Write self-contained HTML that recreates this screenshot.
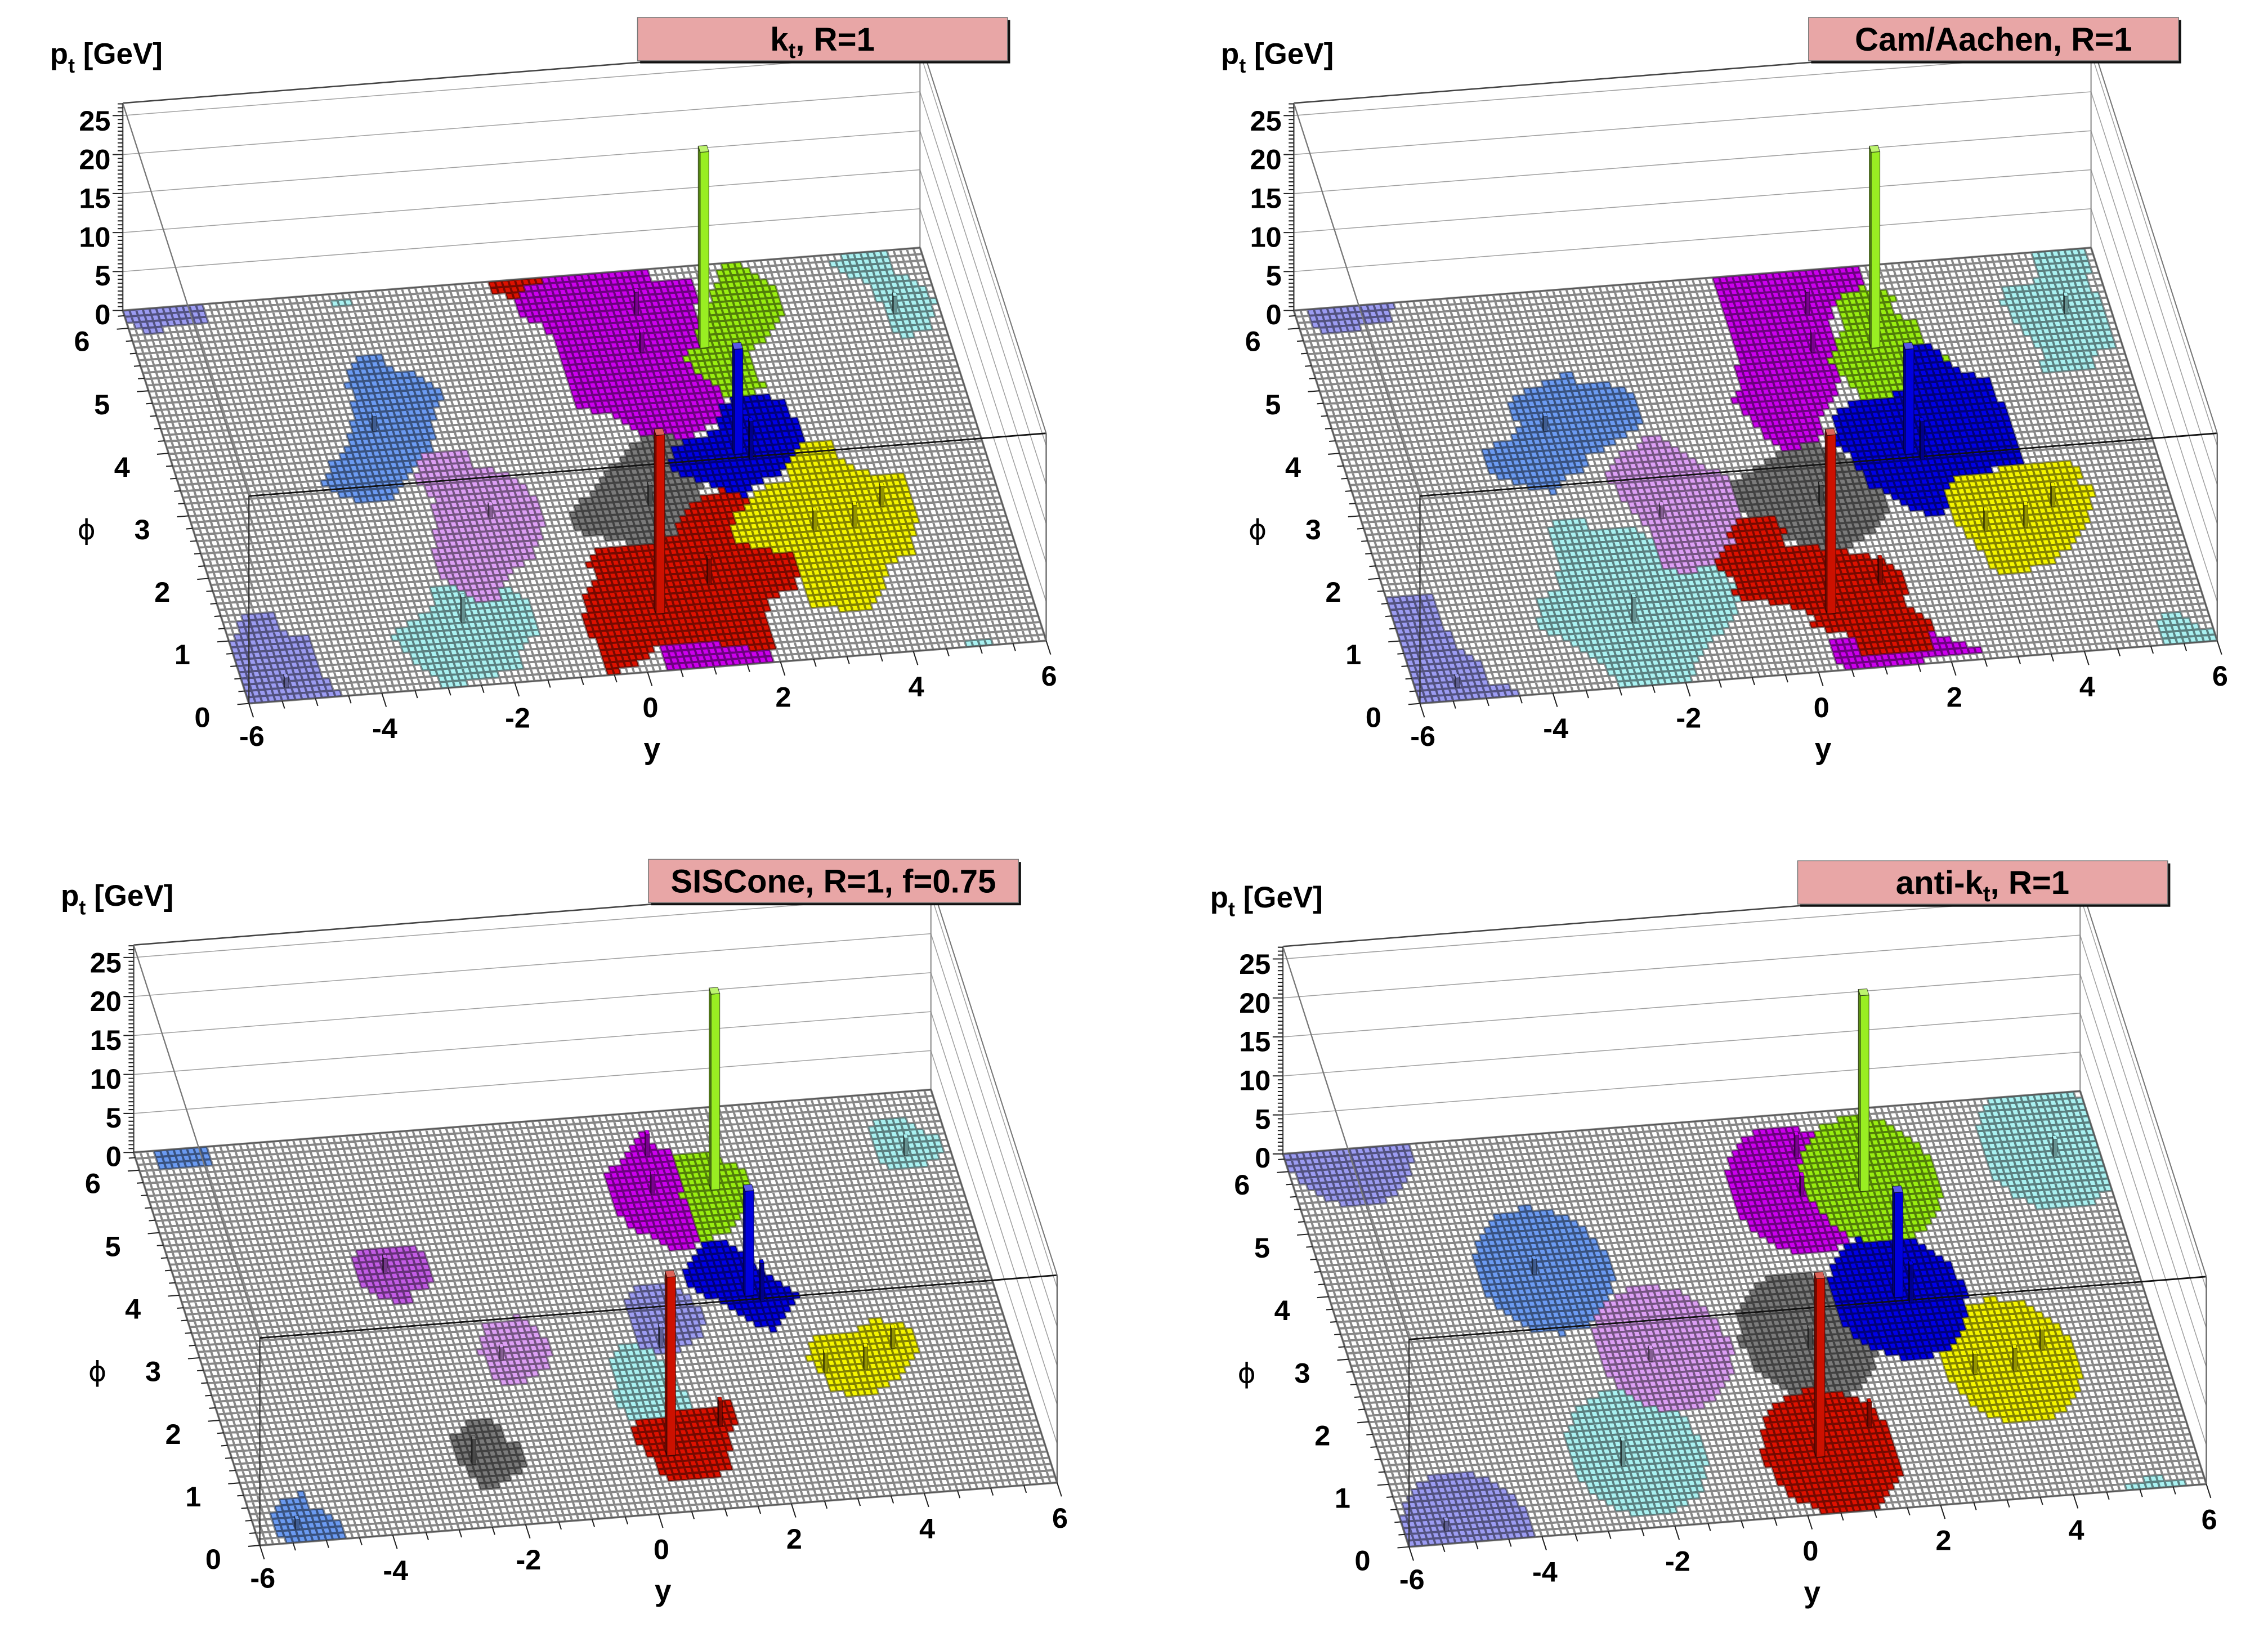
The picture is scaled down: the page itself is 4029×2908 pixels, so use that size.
<!DOCTYPE html>
<html><head><meta charset="utf-8"><title>Jet areas</title>
<style>
html,body{margin:0;padding:0;background:#fff;width:4029px;height:2908px;overflow:hidden}
svg{display:block}
text{font-family:"Liberation Sans",Arial,sans-serif;font-weight:bold;fill:#000}
.tk{font-size:19.5px}
.ti{font-size:22.5px}
.ax{font-size:20.5px}
.phi{font-weight:normal;font-family:"DejaVu Sans","Liberation Sans",sans-serif;font-size:19px}
</style></head><body>
<svg id="svg" xmlns="http://www.w3.org/2000/svg" width="4029" height="2908" viewBox="0 0 1560 1126">
<rect x="0" y="0" width="1560" height="1126" fill="#fff"/>

<g class="panel" transform="translate(0,0)">
<g class="geo"></g>
<text class="ax" x="34.3" y="44">p<tspan font-size="14" dy="6">t</tspan><tspan dy="-6"> [GeV]</tspan></text>
<g class="tk" text-anchor="end"><text x="76" y="223">0</text><text x="76" y="196.4">5</text><text x="76" y="169.7">10</text><text x="76" y="143.1">15</text><text x="76" y="116.4">20</text><text x="76" y="89.8">25</text></g>
<g class="tk" text-anchor="middle"><text x="139.2" y="500">0</text><text x="125.4" y="457">1</text><text x="111.6" y="414">2</text><text x="97.8" y="371">3</text><text x="83.9" y="328">4</text><text x="70.1" y="285">5</text><text x="56.3" y="241.5">6</text><text x="173.2" y="513">-6</text><text x="264.6" y="507.7">-4</text><text x="356" y="500.5">-2</text><text x="447.4" y="493.3">0</text><text x="538.8" y="486.1">2</text><text x="630.2" y="478.9">4</text><text x="721.6" y="471.7">6</text></g>
<text class="phi" x="59.5" y="371" text-anchor="middle">ϕ</text>
<text class="ax" x="448.5" y="522" text-anchor="middle">y</text>
<rect x="440.3" y="13.8" width="254.5" height="29.8" fill="#111"/>
<rect x="438.5" y="12" width="254.5" height="29.8" fill="#e8a6a6" stroke="#777" stroke-width="0.6"/>
<text class="ti" x="565.7" y="34.8" text-anchor="middle">k<tspan font-size="15" dy="5">t</tspan><tspan dy="-5">, R=1</tspan></text>
</g>

<g class="panel" transform="translate(805.5,0)">
<g class="geo"></g>
<text class="ax" x="34.3" y="44">p<tspan font-size="14" dy="6">t</tspan><tspan dy="-6"> [GeV]</tspan></text>
<g class="tk" text-anchor="end"><text x="76" y="223">0</text><text x="76" y="196.4">5</text><text x="76" y="169.7">10</text><text x="76" y="143.1">15</text><text x="76" y="116.4">20</text><text x="76" y="89.8">25</text></g>
<g class="tk" text-anchor="middle"><text x="139.2" y="500">0</text><text x="125.4" y="457">1</text><text x="111.6" y="414">2</text><text x="97.8" y="371">3</text><text x="83.9" y="328">4</text><text x="70.1" y="285">5</text><text x="56.3" y="241.5">6</text><text x="173.2" y="513">-6</text><text x="264.6" y="507.7">-4</text><text x="356" y="500.5">-2</text><text x="447.4" y="493.3">0</text><text x="538.8" y="486.1">2</text><text x="630.2" y="478.9">4</text><text x="721.6" y="471.7">6</text></g>
<text class="phi" x="59.5" y="371" text-anchor="middle">ϕ</text>
<text class="ax" x="448.5" y="522" text-anchor="middle">y</text>
<rect x="440.3" y="13.8" width="254.5" height="29.8" fill="#111"/>
<rect x="438.5" y="12" width="254.5" height="29.8" fill="#e8a6a6" stroke="#777" stroke-width="0.6"/>
<text class="ti" x="565.7" y="34.8" text-anchor="middle">Cam/Aachen, R=1</text>
</g>

<g class="panel" transform="translate(7.5,579.1)">
<g class="geo"></g>
<text class="ax" x="34.3" y="44">p<tspan font-size="14" dy="6">t</tspan><tspan dy="-6"> [GeV]</tspan></text>
<g class="tk" text-anchor="end"><text x="76" y="223">0</text><text x="76" y="196.4">5</text><text x="76" y="169.7">10</text><text x="76" y="143.1">15</text><text x="76" y="116.4">20</text><text x="76" y="89.8">25</text></g>
<g class="tk" text-anchor="middle"><text x="139.2" y="500">0</text><text x="125.4" y="457">1</text><text x="111.6" y="414">2</text><text x="97.8" y="371">3</text><text x="83.9" y="328">4</text><text x="70.1" y="285">5</text><text x="56.3" y="241.5">6</text><text x="173.2" y="513">-6</text><text x="264.6" y="507.7">-4</text><text x="356" y="500.5">-2</text><text x="447.4" y="493.3">0</text><text x="538.8" y="486.1">2</text><text x="630.2" y="478.9">4</text><text x="721.6" y="471.7">6</text></g>
<text class="phi" x="59.5" y="371" text-anchor="middle">ϕ</text>
<text class="ax" x="448.5" y="522" text-anchor="middle">y</text>
<rect x="440.3" y="13.8" width="254.5" height="29.8" fill="#111"/>
<rect x="438.5" y="12" width="254.5" height="29.8" fill="#e8a6a6" stroke="#777" stroke-width="0.6"/>
<text class="ti" x="565.7" y="34.8" text-anchor="middle">SISCone, R=1, f=0.75</text>
</g>

<g class="panel" transform="translate(798,580.1)">
<g class="geo"></g>
<text class="ax" x="34.3" y="44">p<tspan font-size="14" dy="6">t</tspan><tspan dy="-6"> [GeV]</tspan></text>
<g class="tk" text-anchor="end"><text x="76" y="223">0</text><text x="76" y="196.4">5</text><text x="76" y="169.7">10</text><text x="76" y="143.1">15</text><text x="76" y="116.4">20</text><text x="76" y="89.8">25</text></g>
<g class="tk" text-anchor="middle"><text x="139.2" y="500">0</text><text x="125.4" y="457">1</text><text x="111.6" y="414">2</text><text x="97.8" y="371">3</text><text x="83.9" y="328">4</text><text x="70.1" y="285">5</text><text x="56.3" y="241.5">6</text><text x="173.2" y="513">-6</text><text x="264.6" y="507.7">-4</text><text x="356" y="500.5">-2</text><text x="447.4" y="493.3">0</text><text x="538.8" y="486.1">2</text><text x="630.2" y="478.9">4</text><text x="721.6" y="471.7">6</text></g>
<text class="phi" x="59.5" y="371" text-anchor="middle">ϕ</text>
<text class="ax" x="448.5" y="522" text-anchor="middle">y</text>
<rect x="440.3" y="13.8" width="254.5" height="29.8" fill="#111"/>
<rect x="438.5" y="12" width="254.5" height="29.8" fill="#e8a6a6" stroke="#777" stroke-width="0.6"/>
<text class="ti" x="565.7" y="34.8" text-anchor="middle">anti-k<tspan font-size="15" dy="5">t</tspan><tspan dy="-5">, R=1</tspan></text>
</g>
</svg>

<script>
(function(){
var NS="http://www.w3.org/2000/svg";
var E=[171.2,483.9],EY=[548.4,-43.2],EP=[-86.8,-270.3],ZS=5.364,ZMAX=26.6,NY=120,NP=63,TP=2*Math.PI;
function P(u,v,z){return [E[0]+u*EY[0]+v*EP[0],E[1]+u*EY[1]+v*EP[1]-(z||0)*ZS];}
function s(p){return p[0].toFixed(2)+" "+p[1].toFixed(2);}
function mk(tag,a,par){var e=document.createElementNS(NS,tag);for(var k in a)e.setAttribute(k,a[k]);if(par)par.appendChild(e);return e;}
var DET=EY[0]*EP[1]-EP[0]*EY[1];
function inv(x,y){var dx=x-E[0],dy=y-E[1];return [(dx*EP[1]-EP[0]*dy)/DET,(EY[0]*dy-EY[1]*dx)/DET];}
var COL={lav:"#9c9cf2",cyan:"#aaf2f2",corn:"#6b9bf2",lilac:"#dd9ff5",mag:"#cc00ee",mag2:"#c35ce6",grn:"#99ee11",blu:"#0000e6",gry:"#7b7b7b",red:"#dd1100",yel:"#f5f500"};
function hex2(c){return [parseInt(c.substr(1,2),16),parseInt(c.substr(3,2),16),parseInt(c.substr(5,2),16)];}
function rgb(a){return "rgb("+a.map(function(x){return Math.max(0,Math.min(255,Math.round(x)));}).join(",")+")";}
function dark(c,f){return rgb(hex2(c).map(function(x){return x*f;}));}
function light(c,f){return rgb(hex2(c).map(function(x){return x+(255-x)*f;}));}
function pip(x,y,poly){var c=false;for(var i=0,j=poly.length-1;i<poly.length;j=i++){var xi=poly[i][0],yi=poly[i][1],xj=poly[j][0],yj=poly[j][1];if(((yi>y)!=(yj>y))&&(x<(xj-xi)*(y-yi)/(yj-yi)+xi))c=!c;}return c;}

var TLP=[
["lav",[[172,620],[285,608],[287,648],[262,650],[225,655],[222,668],[205,668],[200,648],[175,648]]],
["lav",[[335,1222],[378,1218],[385,1258],[425,1262],[440,1330],[472,1380],[345,1402],[320,1290]]],
["cyan",[[460,592],[490,590],[492,605],[462,607]]],
["cyan",[[600,1172],[650,1162],[700,1168],[740,1208],[745,1260],[722,1290],[720,1330],[620,1372],[600,1340],[560,1300],[540,1262],[580,1230],[600,1200]]],
["cyan",[[1150,515],[1230,500],[1240,540],[1270,560],[1295,600],[1292,650],[1250,675],[1230,640],[1220,600],[1200,560],[1160,540]]],
["cyan",[[1338,1272],[1375,1268],[1378,1285],[1340,1288]]],
["corn",[[500,710],[525,700],[530,730],[570,740],[595,760],[615,790],[600,820],[605,870],[595,900],[580,915],[560,960],[545,1000],[500,1005],[470,985],[445,960],[460,920],[480,900],[485,860],[490,800],[480,760],[485,730]]],
["lilac",[[590,900],[640,890],[660,930],[700,940],[720,960],[740,990],[760,1040],[750,1060],[740,1110],[700,1150],[690,1200],[660,1195],[640,1175],[610,1150],[600,1100],[605,1040],[600,990],[570,950]]],
["red",[[680,565],[750,555],[752,580],[725,585],[722,600],[700,602],[698,582],[682,582]]],
["mag",[[740,560],[900,540],[905,555],[960,560],[965,600],[970,650],[985,720],[1000,770],[1010,790],[990,840],[960,870],[930,885],[900,880],[880,860],[860,830],[830,820],[800,810],[790,780],[780,730],[770,690],[760,660],[740,640],[720,630],[710,600],[730,575]]],
["mag",[[915,1280],[990,1275],[1070,1298],[1075,1322],[985,1330],[920,1335]]],
["grn",[[1000,530],[1030,525],[1045,545],[1060,560],[1080,580],[1085,620],[1070,650],[1060,680],[1040,700],[1050,740],[1060,770],[1040,790],[1010,800],[990,760],[960,740],[950,710],[965,690],[970,640],[985,590],[995,560]]],
["gry",[[880,880],[910,860],[940,870],[960,900],[970,950],[975,1000],[960,1040],[940,1090],[930,1140],[870,1080],[840,1070],[800,1060],[790,1030],[810,990],[830,960],[860,910]]],
["red",[[955,1000],[1010,970],[1050,995],[1095,1080],[1115,1130],[1100,1175],[1060,1190],[1070,1260],[1080,1300],[990,1280],[915,1280],[880,1330],[840,1340],[835,1300],[810,1250],[810,1190],[825,1140],[810,1120],[830,1095],[870,1085],[900,1090],[935,1060]]],
["blu",[[1000,800],[1055,780],[1085,800],[1100,830],[1115,860],[1110,900],[1105,930],[1060,950],[1030,990],[1000,975],[970,960],[950,950],[930,935],[930,890],[960,870],[990,860]]],
["yel",[[1110,880],[1150,875],[1160,915],[1210,940],[1250,945],[1265,975],[1270,1050],[1265,1100],[1230,1120],[1225,1180],[1200,1215],[1125,1210],[1110,1170],[1100,1100],[1050,1090],[1020,1075],[1015,1030],[1040,1000],[1050,975],[1090,955],[1095,915]]]
];
var TRP=[
["lav",[[230,620],[345,605],[350,640],[310,645],[300,665],[255,668],[235,650]]],
["lav",[[340,1185],[395,1178],[410,1210],[420,1250],[440,1290],[470,1320],[485,1360],[520,1368],[522,1385],[400,1402],[375,1398],[355,1300]]],
["cyan",[[1230,500],[1310,493],[1312,560],[1330,600],[1345,650],[1345,690],[1320,700],[1315,735],[1250,740],[1245,700],[1230,670],[1210,640],[1190,600],[1195,570],[1240,560],[1240,530]]],
["cyan",[[1410,1225],[1440,1222],[1455,1245],[1485,1250],[1490,1275],[1420,1282],[1410,1260]]],
["cyan",[[570,1040],[610,1035],[620,1055],[680,1050],[720,1080],[760,1110],[800,1120],[830,1190],[820,1240],[790,1270],[770,1320],[760,1362],[665,1368],[640,1320],[600,1285],[550,1250],[548,1200],[575,1170],[580,1110],[565,1060]]],
["corn",[[580,745],[595,740],[600,760],[640,765],[670,770],[685,800],[690,840],[670,870],[640,895],[620,900],[610,935],[590,950],[575,980],[540,975],[495,950],[475,930],[470,890],[510,880],[525,850],[510,820],[510,790],[550,770]]],
["lilac",[[700,860],[720,870],[740,890],[770,920],[800,940],[820,960],[830,1000],[825,1060],[820,1100],[790,1120],[760,1140],[720,1130],[710,1090],[700,1050],[680,1020],[660,980],[640,940],[665,900],[690,890]]],
["mag",[[790,555],[880,540],[990,530],[1000,560],[985,580],[960,600],[955,650],[970,700],[965,740],[960,790],[940,830],[940,870],[920,895],[880,890],[860,860],[840,830],[820,800],[830,760],[820,700],[810,640],[800,600]]],
["mag",[[955,1275],[990,1268],[1000,1310],[1040,1305],[1095,1262],[1140,1280],[1170,1300],[1100,1312],[970,1332]]],
["grn",[[975,580],[1000,572],[1040,585],[1045,620],[1070,640],[1085,670],[1080,700],[1100,690],[1120,720],[1115,745],[1090,745],[1060,760],[1040,800],[1010,805],[985,775],[970,745],[950,720],[960,690],[970,650],[960,600]]],
["gry",[[880,905],[930,880],[960,890],[990,920],[1005,960],[1035,990],[1030,1030],[1010,1060],[990,1080],[950,1100],[920,1090],[890,1070],[870,1040],[850,1040],[830,1020],[820,960],[850,930]]],
["red",[[830,1030],[880,1025],[890,1060],[880,1080],[940,1090],[990,1100],[1040,1120],[1060,1160],[1060,1200],[1080,1220],[1095,1240],[1090,1270],[1100,1290],[1040,1305],[1000,1310],[990,1270],[960,1255],[930,1250],[930,1220],[880,1200],[820,1190],[820,1150],[800,1140],[795,1110],[820,1080],[810,1060]]],
["blu",[[1060,690],[1085,680],[1105,700],[1120,730],[1140,740],[1170,750],[1180,780],[1200,820],[1215,880],[1220,920],[1180,930],[1150,960],[1120,980],[1110,1030],[1080,1020],[1050,1000],[1030,980],[1000,960],[990,920],[960,880],[960,820],[985,800],[1010,790],[1040,790],[1060,760]]],
["yel",[[1125,950],[1180,935],[1240,920],[1280,915],[1300,930],[1300,960],[1320,975],[1310,1050],[1290,1080],[1260,1120],[1200,1145],[1175,1130],[1160,1090],[1140,1060],[1120,1020],[1115,980]]]
];
var BLP=[
["corn",[[215,612],[290,603],[292,640],[218,648]]],
["corn",[[395,1300],[420,1290],[425,1320],[455,1330],[470,1350],[480,1375],[405,1390],[380,1375],[375,1330]]],
["mag2",[[500,810],[540,800],[570,795],[585,810],[595,830],[598,880],[575,890],[565,912],[540,910],[520,895],[500,880],[490,830]]],
["lilac",[[670,960],[700,945],[720,940],[740,960],[755,980],[765,1010],[760,1040],[740,1060],[720,1075],[690,1070],[680,1045],[665,1010],[668,985]]],
["gry",[[640,1160],[665,1140],[690,1150],[700,1185],[725,1200],[730,1240],[710,1260],[690,1275],[670,1280],[650,1250],[630,1220],[625,1180]]],
["cyan",[[1215,550],[1250,540],[1270,560],[1290,575],[1305,590],[1310,610],[1290,630],[1260,650],[1225,640],[1210,610],[1205,575]]],
["mag",[[885,565],[895,570],[905,600],[930,610],[940,650],[945,700],[960,740],[975,790],[940,810],[920,800],[900,780],[880,770],[860,740],[850,700],[840,660],[850,640],[870,620],[880,590]]],
["grn",[[935,615],[980,612],[1000,625],[1020,640],[1040,660],[1045,700],[1030,720],[1020,760],[1000,775],[975,790],[960,740],[945,700],[940,650]]],
["blu",[[975,790],[1000,785],[1020,800],[1040,830],[1060,850],[1080,870],[1100,885],[1110,900],[1100,920],[1080,950],[1070,970],[1050,955],[1020,935],[995,910],[975,900],[955,880],[945,860],[950,830],[970,810]]],
["lav",[[880,880],[910,870],[930,880],[955,900],[970,920],[978,950],[970,980],[950,1000],[930,1010],[900,1010],[880,990],[870,950],[865,910]]],
["cyan",[[860,1000],[885,995],[905,1010],[920,1030],[935,1060],[950,1090],[960,1110],[950,1140],[930,1150],[900,1155],[870,1140],[855,1110],[850,1060],[848,1030]]],
["red",[[880,1150],[920,1135],[960,1125],[990,1120],[1000,1105],[1015,1110],[1022,1150],[1020,1160],[1010,1180],[1015,1230],[1000,1255],[980,1260],[930,1270],[915,1250],[905,1225],[890,1200],[875,1170]]],
["yel",[[1120,985],[1165,975],[1195,960],[1210,945],[1240,950],[1260,965],[1270,990],[1275,1010],[1260,1035],[1250,1060],[1230,1080],[1210,1095],[1175,1100],[1150,1080],[1135,1050],[1120,1020]]]
];
var JETS=[["lav",-5.05,0.1],["cyan",5.25,5.45],["cyan",-2.22,1.18],["corn",-2.72,4.14],["lilac",-1.34,2.77],["gry",0.84,2.79],["mag",1.35,5.08],["yel",3.72,2.15],["blu",2.36,3.31],["red",0.64,0.96],["grn",2.51,5.16]];

var CONF=[{polys:TLP,sh:[0,0]},{polys:TRP,sh:[-19.9,0]},{polys:BLP,sh:[-7.5,1.7]},{jets:JETS}];

function buildGrid(cf){
  var g=[],i,j,k;
  var polys=null;
  if(cf.polys){polys=cf.polys.map(function(p){return [p[0],p[1].map(function(q){return [q[0]/2.015+cf.sh[0],q[1]/2.893+cf.sh[1]];})];});}
  for(i=0;i<NY;i++){g.push([]);for(j=0;j<NP;j++){
    var c=null;
    if(polys){var pc=P((i+0.5)/NY,(j+0.5)/NP);
      for(k=0;k<polys.length;k++){if(pip(pc[0],pc[1],polys[k][1]))c=polys[k][0];}}
    else{var yy=-6+(i+0.5)*12/NY,ph=(j+0.5)*TP/NP;
      for(k=0;k<cf.jets.length;k++){var jt=cf.jets[k];var dy=yy-jt[1],dp=Math.abs(ph-jt[2]);if(dp>Math.PI)dp=TP-dp;if(dy*dy+dp*dp<1)c=jt[0];}}
    g[i].push(c);}}
  return g;
}

function box(g,u0,v0,h,cf,cl,ct,sw,wu,wv){
  var u1=u0+(wu||1)/NY,v1=v0+(wv||1)/NP;
  function poly(pts,fill){mk("path",{d:"M"+pts.map(s).join("L")+"Z",fill:fill,stroke:"#000","stroke-opacity":"0.6","stroke-width":sw||"0.35","stroke-linejoin":"round"},g);}
  poly([P(u0,v0,0),P(u0,v1,0),P(u0,v1,h),P(u0,v0,h)],cl);
  poly([P(u0,v0,0),P(u1,v0,0),P(u1,v0,h),P(u0,v0,h)],cf);
  poly([P(u0,v0,h),P(u1,v0,h),P(u1,v1,h),P(u0,v1,h)],ct);
}

var SMALL=[[436.7,214.3,15.6],[441.7,242,13.8],[258,293.8,10.4],[337.5,354.3,8.6],[320,425,17.3],[196,470,6.9],[615.4,214.3,12.1],[449,345.7,13.8],[488.8,401,17.3],[560.8,363,13.8],[590.6,361.2,15.6],[608,345.7,13.8],[518.6,312.8,26]];
var BIG=[[485,236,100,"#99ee22"],[505,311,235.5,"#0000dd"],[453.7,418,294.7,"#cc1100"]];

function draw(g,grid){
  var C=P(0,1,0),D=P(1,1,0),F=P(1,0,0),Ee=P(0,0,0),top=ZMAX*ZS;
  var A=[C[0],C[1]-top],B=[D[0],D[1]-top],G=[Ee[0],Ee[1]-top],H=[F[0],F[1]-top];
  function line(p,q,st,w){mk("line",{x1:p[0].toFixed(2),y1:p[1].toFixed(2),x2:q[0].toFixed(2),y2:q[1].toFixed(2),stroke:st,"stroke-width":w},g);}
  var d="",i,j,k,z;
  for(z=5;z<=25;z+=5){var o=z*ZS;d+="M"+s([C[0],C[1]-o])+"L"+s([D[0],D[1]-o])+"L"+s([F[0],F[1]-o]);}
  mk("path",{d:d,fill:"none",stroke:"#a0a0a0","stroke-width":"0.6"},g);
  line(A,C,"#555",1);line(A,B,"#444",1);line(B,D,"#888",0.8);
  mk("path",{d:"M"+[Ee,F,D,C].map(s).join("L")+"Z",fill:"#fff"},g);
  var paths={};
  for(i=0;i<NY;i++)for(j=0;j<NP;j++){var c=grid[i][j];if(!c)continue;
    paths[c]=(paths[c]||"")+"M"+s(P(i/NY,j/NP))+"L"+s(P((i+1)/NY,j/NP))+"L"+s(P((i+1)/NY,(j+1)/NP))+"L"+s(P(i/NY,(j+1)/NP))+"Z";}
  for(var key in paths)mk("path",{d:paths[key],fill:COL[key]},g);
  d="";
  for(i=0;i<=NY;i++)d+="M"+s(P(i/NY,0))+"L"+s(P(i/NY,1));
  for(j=0;j<=NP;j++)d+="M"+s(P(0,j/NP))+"L"+s(P(1,j/NP));
  mk("path",{d:d,fill:"none",stroke:"#000","stroke-opacity":"0.47","stroke-width":"1.5"},g);
  mk("path",{d:"M"+[Ee,F,D,C].map(s).join("L")+"Z",fill:"none",stroke:"#555","stroke-width":"0.7"},g);
  line(A,G,"#777",0.9);line(G,Ee,"#333",0.9);line(G,H,"#111",1.1);line(B,H,"#777",0.8);line(H,F,"#666",0.9);
  for(k=0;k<SMALL.length;k++){var sm=SMALL[k];var uv=inv(sm[0],sm[1]);var ii=Math.floor(uv[0]*NY),jj=Math.floor(uv[1]*NP);
    if(ii<0||ii>=NY||jj<0||jj>=NP)continue;var cc=grid[ii][jj];var col=cc?COL[cc]:"#cccccc";
    box(g,ii/NY,jj/NP,sm[2]/ZS,dark(col,0.6),dark(col,0.35),col,"0.25",0.55,0.6);}
  for(k=0;k<BIG.length;k++){var b=BIG[k];var uv2=inv(b[0],b[1]);var i2=Math.floor(uv2[0]*NY),j2=Math.floor(uv2[1]*NP);
    var u0=i2/NY,v0=j2/NP;var h=(P(u0+1.3/NY,v0+1/NP,0)[1]-b[2])/ZS;box(g,u0,v0,h,b[3],dark(b[3],0.6),light(b[3],0.35),"0.45",1.3,1);}
  d="";
  for(k=0;k<=31;k++){var ph=k*0.2;var p=P(0,ph/TP);var L=(k%5==0)?8:4.5;d+="M"+s(p)+"L"+s([p[0]-0.997*L,p[1]+0.0786*L]);}
  for(k=0;k<=24;k++){var p2=P(k/24,0);var L2=(k%4==0)?10:5.5;d+="M"+s(p2)+"L"+s([p2[0]+0.306*L2,p2[1]+0.952*L2]);}
  for(k=0;k<=53;k++){var p3=[C[0],C[1]-k*0.5*ZS];var L3=(k%10==0)?7:3.5;d+="M"+s(p3)+"L"+s([p3[0]-L3,p3[1]]);}
  mk("path",{d:d,fill:"none",stroke:"#222","stroke-width":"0.8"},g);
}

var panels=document.querySelectorAll("#svg > g.panel");
for(var n=0;n<panels.length;n++){
  var geo=panels[n].querySelector("g.geo");
  draw(geo,buildGrid(CONF[n]));
}
})();
</script>
</body></html>
